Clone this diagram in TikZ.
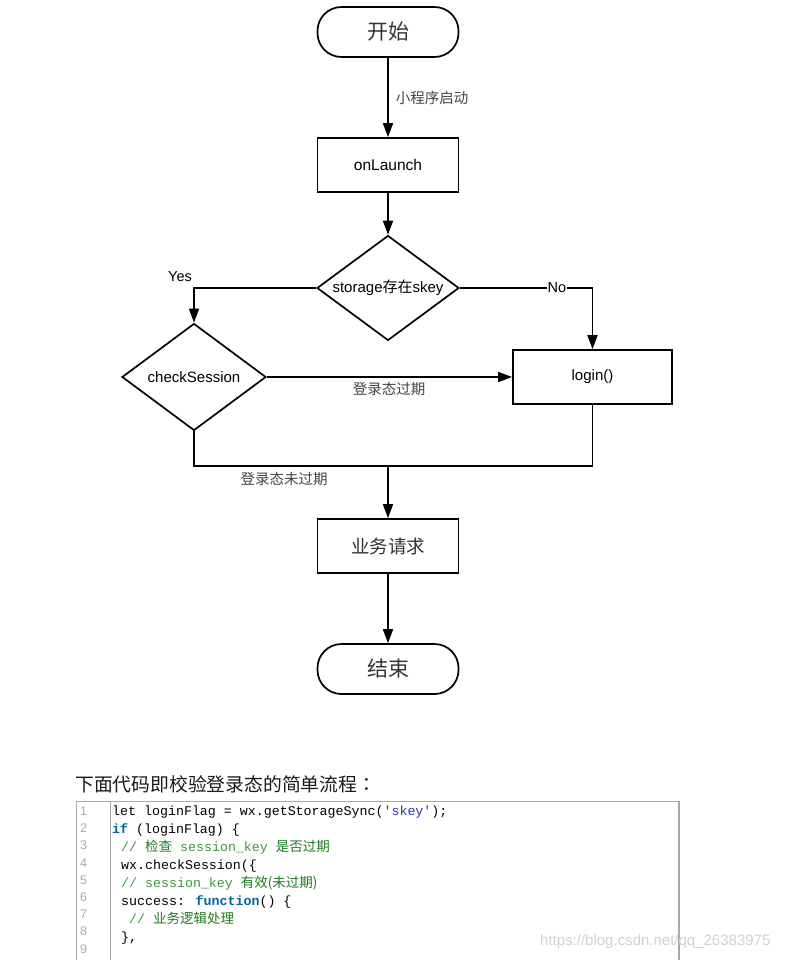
\documentclass[tikz,border=0pt]{standalone}
\usepackage{fontspec}
\setmainfont{Liberation Sans}
\newfontfamily\cjk{Noto Sans CJK SC}
\newfontfamily\cjktc{Noto Sans CJK TC}
\newfontfamily\mono{Liberation Mono}
\usetikzlibrary{arrows.meta,shapes.geometric}
\definecolor{txt}{HTML}{333333}
\definecolor{lbl}{HTML}{444444}
\definecolor{kw}{HTML}{006699}
\definecolor{strc}{HTML}{3030C0}
\definecolor{cm}{HTML}{3C9A3C}
\definecolor{cmz}{HTML}{1E7A1E}
\definecolor{gut}{HTML}{AAAAAA}
\definecolor{boxc}{HTML}{A8A8A8}
\definecolor{wm}{HTML}{D2D2D2}
\newcommand\sq{\char39 }
\tikzset{
  lw/.style={line width=1.7pt},
  arr/.style={lw,-{Triangle[width=10pt,length=14pt]}},
  term/.style={draw,lw,rectangle,rounded corners=24pt,minimum width=141pt,minimum height=50pt,inner sep=0pt,text=txt,font=\cjk\fontsize{21}{21}\selectfont},
  proc/.style={draw,lw,rectangle,minimum width=141pt,minimum height=54pt,inner sep=0pt,text=black},
  dec/.style={draw,lw,diamond,aspect=1.35,inner sep=0pt,text=black,font=\fontsize{15}{15}\selectfont},
  lab/.style={inner sep=0pt,text=lbl,font=\cjk\fontsize{14.5}{14.5}\selectfont},
  codeln/.style={inner sep=0pt,anchor=base west,font=\mono\fontsize{13.3}{13.3}\selectfont},
  num/.style={inner sep=0pt,anchor=base west,text=gut,font=\fontsize{12.5}{12.5}\selectfont}
}
\begin{document}
\begin{tikzpicture}[x=1pt,y=-1pt]
\useasboundingbox[fill=white] (0,0) rectangle (794,960);
% flowchart
\node[term] (start) at (388,32) {开始};
\node[proc,font=\fontsize{15.5}{15.5}\selectfont] (onl) at (388,165) {onLaunch};
\node[dec,minimum width=142pt,minimum height=105pt] (sto) at (388,288) {storage{\cjk 存在}skey};
\node[dec,minimum width=144pt,minimum height=107pt] (chk) at (194,377) {checkSession};
\node[proc,minimum width=159pt,font=\fontsize{15}{15}\selectfont] (login) at (592.5,377) {login()};
\node[proc,font=\cjk\fontsize{18.5}{18.5}\selectfont,text=txt] (biz) at (388,546) {业务请求};
\node[term] (end) at (388,669) {结束};
\coordinate (m) at (388,466);

\draw[arr] (start) -- node[lab,right=7pt,pos=0.5] (l1) {小程序启动} (onl);
\draw[arr] (onl) -- (sto);
\draw[arr] (sto.west) -| (chk.north);
\draw[arr] (sto.east) -| (login.north);
\node[inner sep=1pt,fill=white,font=\fontsize{14.5}{14.5}\selectfont,text=black] (no) at (557,288) {No};
\node[inner sep=0pt,font=\fontsize{14.5}{14.5}\selectfont,text=black] (yes) at (180,277) {Yes};
\draw[arr] (chk.east) -- (login.west);
\node[lab] (l2) at (389,389) {登录态过期};
\draw[lw] (chk.south) |- (m);
\draw[lw] (login.south) |- (m);
\draw[arr] (m) -- (biz);
\node[lab] (l3) at (284,479) {登录态未过期};
\draw[arr] (biz) -- (end);

% heading
\node[inner sep=0pt,anchor=west,text=black!90,font=\cjk\fontsize{18.8}{18.8}\selectfont] (head) at (75,784) {下面代码即校验登录态的简单流程{\cjktc ：}};

% code box
\begin{scope}
\clip (0,0) rectangle (794,960);
\draw[boxc,line width=1pt] (110,801.5) -- (110,975);
\draw[boxc,line width=1.2pt] (76.5,975) |- (679,801.5) -- (679,975);
\end{scope}
\foreach \i [count=\k from 0] in {1,...,9}
  \node[num] at (80,{815.5+17.2*\k}) {\i};
\node[codeln] (c1) at (112,815.5) {let loginFlag = wx.getStorageSync({\color{strc}\sq skey\sq});};
\node[codeln] (c2) at (112,833.5) {{\bfseries\color{kw}if} (loginFlag) \{};
\node[codeln,text=cm] (c3) at (121,851.5) {// {\cjk\fontsize{13.5}{13.5}\selectfont\color{cmz}检查} session\_key {\cjk\fontsize{13.5}{13.5}\selectfont\color{cmz}是否过期}};
\node[codeln] (c4) at (121,869.5) {wx.checkSession(\{};
\node[codeln,text=cm] (c5) at (121,887.5) {// session\_key {\cjk\fontsize{13.5}{13.5}\selectfont\color{cmz}有效(未过期)}};
\node[codeln] (c6) at (121,905.5) {success: {\bfseries\color{kw}function}() \{};
\node[codeln,text=cm] (c7) at (129,923.5) {// {\cjk\fontsize{13.5}{13.5}\selectfont\color{cmz}业务逻辑处理}};
\node[codeln] (c8) at (121,941.5) {\},};

% watermark
\node[inner sep=0pt,anchor=west,text=wm,font=\fontsize{15}{15}\selectfont] (wmk) at (540,942) {https://blog.csdn.net/qq\_26383975};
\end{tikzpicture}
\end{document}
